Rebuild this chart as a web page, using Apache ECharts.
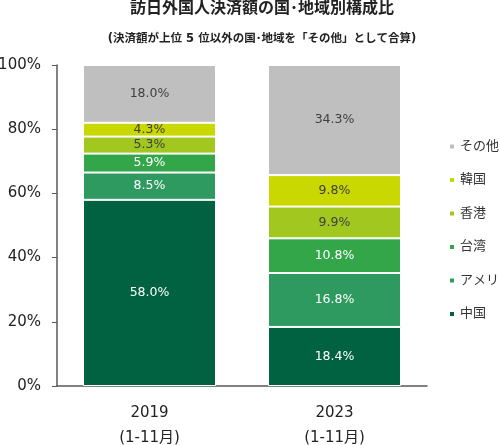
<!DOCTYPE html>
<html>
<head>
<meta charset="utf-8">
<script src="https://cdn.jsdelivr.net/npm/echarts@6/dist/echarts.min.js"></script>
<style>
  html, body { margin: 0; padding: 0; background: #fff; }
  #chart { width: 500px; height: 445px; }
</style>
</head>
<body>
<div id="chart"></div>
<script>
var chartDom = document.getElementById('chart');
var myChart = echarts.init(chartDom);

var years = ['2019\n(1-11月)', '2023\n(1-11月)'];
var names = ['中国', 'アメリカ', '台湾', '香港', '韓国', 'その他'];
var china = [58.0, 18.4];
var usa = [8.5, 16.8];
var taiwan = [5.9, 10.8];
var hongkong = [5.3, 9.9];
var korea = [4.3, 9.8];
var others = [18.0, 34.3];
var colors = ['#006241', '#2e9a5f', '#33a64a', '#a2c71f', '#c8d800', '#bfbfbf'];
var labelColors = ['#fff', '#fff', '#fff', '#404040', '#404040', '#404040'];

var font = '"DejaVu Sans", "Noto Sans CJK JP", sans-serif';
var values = [china, usa, taiwan, hongkong, korea, others];

var series = names.map(function (name, i) {
  return {
    name: name,
    type: 'bar',
    stack: 'total',
    barWidth: 133,
    data: values[i],
    itemStyle: {
      color: colors[i],
      borderColor: '#fff',
      borderWidth: 1
    },
    label: {
      show: true,
      position: 'inside',
      color: labelColors[i],
      fontSize: 12.5,
      fontFamily: font,
      formatter: function (p) { return p.value.toFixed(1) + '%'; }
    }
  };
});

option = {
  animation: false,
  title: {
    text: '訪日外国人決済額の国･地域別構成比',
    subtext: '(決済額が上位 5 位以外の国･地域を「その他」として合算)',
    left: 257,
    textAlign: 'center',
    top: 1,
    padding: [0, 5],
    itemGap: 16,
    textStyle: {
      fontSize: 16,
      fontWeight: 'bold',
      color: '#222',
      fontFamily: font
    },
    subtextStyle: {
      fontSize: 11.5,
      fontWeight: 'bold',
      color: '#222',
      fontFamily: font
    }
  },
  legend: {
    orient: 'vertical',
    left: 443,
    top: 135,
    itemWidth: 6,
    itemHeight: 6,
    itemGap: 20.5,
    icon: 'rect',
    data: names.slice().reverse(),
    textStyle: {
      fontSize: 13,
      color: '#333',
      fontFamily: font
    }
  },
  grid: {
    left: 57,
    right: 73,
    top: 65,
    bottom: 59,
    outerBoundsMode: 'none'
  },
  xAxis: {
    type: 'category',
    data: years,
    axisTick: { show: false },
    axisLine: { lineStyle: { color: '#595959', width: 1.5 } },
    axisLabel: {
      fontSize: 15,
      color: '#222',
      lineHeight: 25,
      margin: 15,
      fontFamily: font
    }
  },
  yAxis: {
    type: 'value',
    min: 0,
    max: 100,
    interval: 20,
    splitLine: { show: false },
    axisLine: { show: true, lineStyle: { color: '#595959', width: 1.5 } },
    axisTick: { show: true, length: 5, lineStyle: { color: '#595959' } },
    axisLabel: {
      formatter: '{value}%',
      fontSize: 15,
      color: '#222',
      margin: 16,
      fontFamily: font
    }
  },
  series: series
};

myChart.setOption(option);
</script>
</body>
</html>
